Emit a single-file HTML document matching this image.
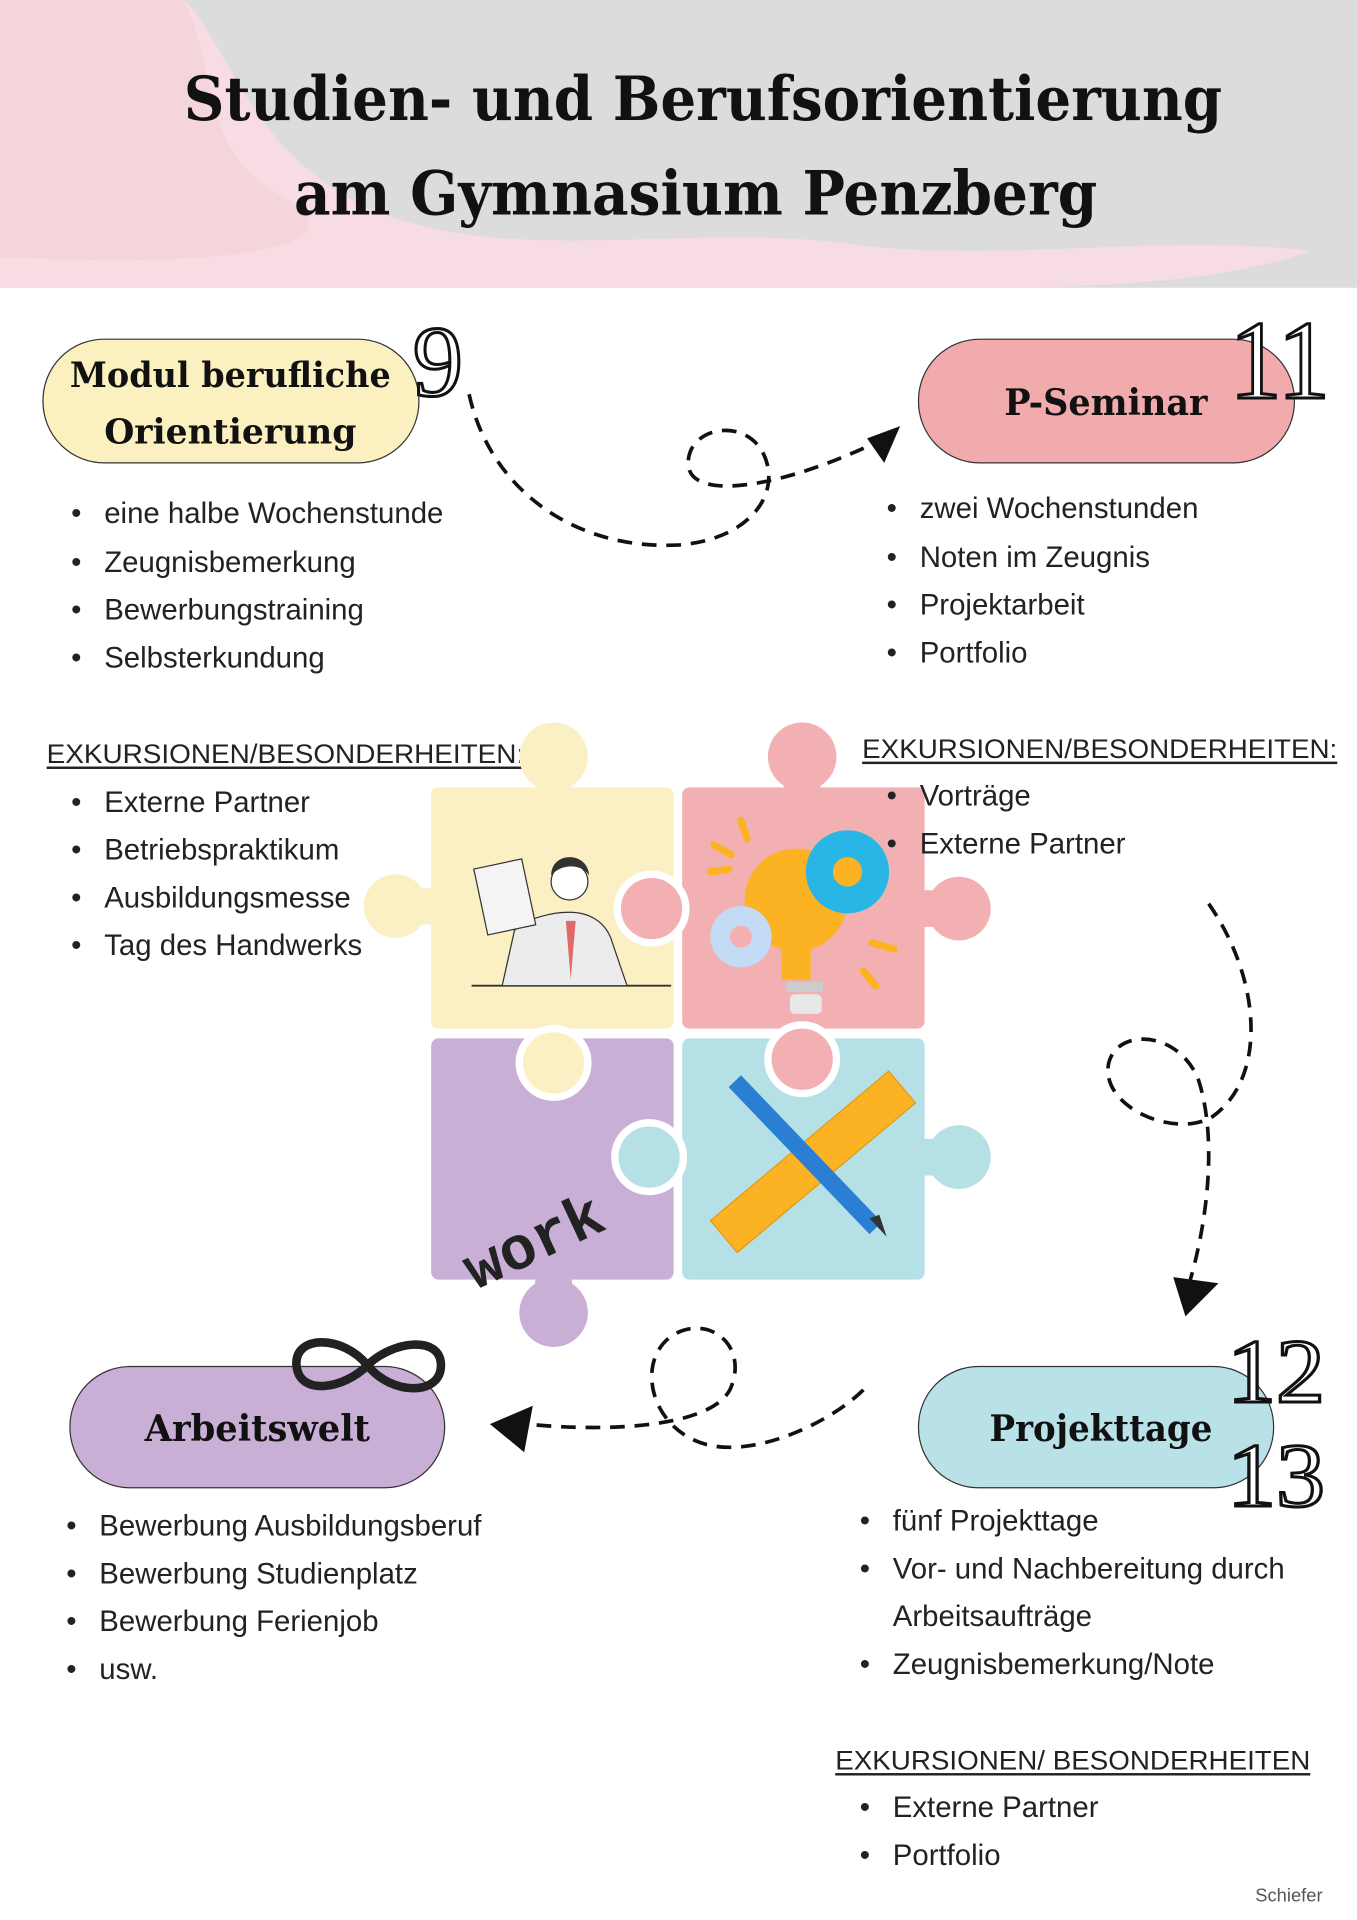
<!DOCTYPE html>
<html><head><meta charset="utf-8"><style>
html,body{margin:0;padding:0;background:#fff;}
svg{display:block;}
.t{font-family:"DejaVu Serif","Liberation Serif",serif;font-weight:bold;fill:#111;}
.l{font-family:"Liberation Sans",sans-serif;font-size:24px;fill:#222;}
.h{font-family:"Liberation Sans",sans-serif;font-size:22px;fill:#222;}
.n{font-family:"Liberation Serif",serif;fill:#fff;stroke:#111;stroke-width:2.5;}
.w{font-family:"Liberation Mono",monospace;font-size:50px;fill:#222;font-weight:bold;}
.s{font-family:"Liberation Sans",sans-serif;font-size:15px;fill:#555;}
</style></head><body>
<svg width="1357" height="1920" viewBox="0 0 1108 1568" xmlns="http://www.w3.org/2000/svg">
<!-- header -->
<rect x="0" y="0" width="1108" height="235" fill="#dcdcdc"/>
<path d="M0,0 L150,0 C190,40 200,120 300,170 C420,220 560,180 700,200 C820,215 950,190 1070,205 C1000,230 900,235 800,235 L0,235 Z" fill="#f7dde3"/>
<path d="M0,0 L150,0 C180,60 160,120 230,160 C300,200 200,220 0,210 Z" fill="#f5d5dc"/>
<text class="t" x="574" y="98" text-anchor="middle" font-size="50" textLength="848" lengthAdjust="spacingAndGlyphs">Studien- und Berufsorientierung</text>
<text class="t" x="568" y="175" text-anchor="middle" font-size="50" textLength="656" lengthAdjust="spacingAndGlyphs">am Gymnasium Penzberg</text>

<!-- pills -->
<rect x="35" y="277" width="307" height="101" rx="50" fill="#fbf0c0" stroke="#333" stroke-width="1"/>
<text class="t" x="188" y="316" text-anchor="middle" font-size="28" textLength="262" lengthAdjust="spacingAndGlyphs">Modul berufliche</text>
<text class="t" x="188" y="362" text-anchor="middle" font-size="28" textLength="206" lengthAdjust="spacingAndGlyphs">Orientierung</text>
<text class="n" x="337" y="323" font-size="82">9</text>

<rect x="750" y="277" width="307" height="101" rx="50" fill="#f2abad" stroke="#333" stroke-width="1"/>
<text class="t" x="903" y="339" text-anchor="middle" font-size="30" textLength="166" lengthAdjust="spacingAndGlyphs">P-Seminar</text>
<text class="n" x="1004" y="325" font-size="92" textLength="82" lengthAdjust="spacingAndGlyphs">11</text>

<rect x="57" y="1116" width="306" height="99" rx="49" fill="#c9afd6" stroke="#333" stroke-width="1"/>
<text class="t" x="210" y="1177" text-anchor="middle" font-size="30" textLength="184" lengthAdjust="spacingAndGlyphs">Arbeitswelt</text>
<path d="M300,1115 C280,1090 240,1090 242,1115 C244,1140 280,1135 300,1115 C320,1095 360,1090 360,1115 C360,1140 320,1140 300,1115 Z" fill="none" stroke="#222" stroke-width="7"/>

<rect x="750" y="1116" width="290" height="99" rx="49" fill="#b8e2e8" stroke="#333" stroke-width="1"/>
<text class="t" x="899" y="1177" text-anchor="middle" font-size="30" textLength="182" lengthAdjust="spacingAndGlyphs">Projekttage</text>
<text class="n" x="1002" y="1145" font-size="74" textLength="80" lengthAdjust="spacingAndGlyphs">12</text>
<text class="n" x="1002" y="1230" font-size="74" textLength="80" lengthAdjust="spacingAndGlyphs">13</text>

<!-- lists -->
<g class="l">
<text x="58" y="427">•</text><text x="85" y="427">eine halbe Wochenstunde</text>
<text x="58" y="467">•</text><text x="85" y="467">Zeugnisbemerkung</text>
<text x="58" y="506">•</text><text x="85" y="506">Bewerbungstraining</text>
<text x="58" y="545">•</text><text x="85" y="545">Selbsterkundung</text>
<text x="58" y="663">•</text><text x="85" y="663">Externe Partner</text>
<text x="58" y="702">•</text><text x="85" y="702">Betriebspraktikum</text>
<text x="58" y="741">•</text><text x="85" y="741">Ausbildungsmesse</text>
<text x="58" y="780">•</text><text x="85" y="780">Tag des Handwerks</text>

<text x="724" y="423">•</text><text x="751" y="423">zwei Wochenstunden</text>
<text x="724" y="463">•</text><text x="751" y="463">Noten im Zeugnis</text>
<text x="724" y="502">•</text><text x="751" y="502">Projektarbeit</text>
<text x="724" y="541">•</text><text x="751" y="541">Portfolio</text>

<text x="54" y="1254">•</text><text x="81" y="1254">Bewerbung Ausbildungsberuf</text>
<text x="54" y="1293">•</text><text x="81" y="1293">Bewerbung Studienplatz</text>
<text x="54" y="1332">•</text><text x="81" y="1332">Bewerbung Ferienjob</text>
<text x="54" y="1371">•</text><text x="81" y="1371">usw.</text>

<text x="702" y="1250">•</text><text x="729" y="1250">fünf Projekttage</text>
<text x="702" y="1289">•</text><text x="729" y="1289">Vor- und Nachbereitung durch</text>
<text x="729" y="1328">Arbeitsaufträge</text>
<text x="702" y="1367">•</text><text x="729" y="1367">Zeugnisbemerkung/Note</text>
<text x="702" y="1484">•</text><text x="729" y="1484">Externe Partner</text>
<text x="702" y="1523">•</text><text x="729" y="1523">Portfolio</text>
</g>
<g class="h">
<text x="38" y="623" textLength="390" lengthAdjust="spacingAndGlyphs">EXKURSIONEN/BESONDERHEITEN:</text>
<rect x="38" y="626" width="390" height="2" fill="#222"/>
<text x="704" y="619" textLength="388" lengthAdjust="spacingAndGlyphs">EXKURSIONEN/BESONDERHEITEN:</text>
<rect x="704" y="622" width="388" height="2" fill="#222"/>
<text x="682" y="1445" textLength="388" lengthAdjust="spacingAndGlyphs">EXKURSIONEN/ BESONDERHEITEN</text>
<rect x="682" y="1448" width="388" height="2" fill="#222"/>
</g>

<!-- puzzle -->
<rect x="352" y="643" width="198" height="197" rx="6" fill="#fbf0c3"/>
<circle cx="452" cy="618" r="28" fill="#fbf0c3"/><rect x="437" y="630" width="30" height="20" fill="#fbf0c3"/>
<circle cx="323" cy="740" r="26" fill="#fbf0c3"/><rect x="335" y="725" width="22" height="30" fill="#fbf0c3"/>
<rect x="557" y="643" width="198" height="197" rx="6" fill="#f3b0b3"/>
<circle cx="655" cy="618" r="28" fill="#f3b0b3"/><rect x="640" y="630" width="30" height="20" fill="#f3b0b3"/>
<circle cx="783" cy="742" r="26" fill="#f3b0b3"/><rect x="750" y="727" width="20" height="30" fill="#f3b0b3"/>
<rect x="352" y="848" width="198" height="197" rx="6" fill="#c9afd6"/>
<circle cx="452" cy="1072" r="28" fill="#c9afd6"/><rect x="437" y="1040" width="30" height="20" fill="#c9afd6"/>
<rect x="557" y="848" width="198" height="197" rx="6" fill="#b4e0e6"/>
<circle cx="783" cy="945" r="26" fill="#b4e0e6"/><rect x="750" y="930" width="20" height="30" fill="#b4e0e6"/>
<circle cx="530" cy="945" r="28" fill="#b4e0e6" stroke="#fff" stroke-width="6"/>
<circle cx="655" cy="865" r="28" fill="#f3b0b3" stroke="#fff" stroke-width="6"/>
<circle cx="532" cy="742" r="28" fill="#f3b0b3" stroke="#fff" stroke-width="6"/>
<circle cx="452" cy="868" r="28" fill="#fbf0c3" stroke="#fff" stroke-width="6"/>

<!-- person -->
<line x1="385" y1="805" x2="548" y2="805" stroke="#333" stroke-width="1.5"/>
<path d="M410,805 L420,760 C430,750 450,745 465,745 C480,745 495,752 500,770 L512,805 Z" fill="#ececec" stroke="#333"/>
<path d="M462,752 L466,800 L470,752 Z" fill="#e06a6a"/>
<circle cx="465" cy="720" r="15" fill="#fff" stroke="#333"/>
<path d="M450,715 C450,695 480,695 481,715 C475,705 458,705 450,715 Z" fill="#333"/>
<rect x="392" y="705" width="40" height="55" fill="#f4f4f4" stroke="#333" transform="rotate(-12 412 732)"/>

<!-- bulb -->
<circle cx="650" cy="735" r="42" fill="#fbb323"/>
<rect x="638" y="770" width="24" height="30" fill="#fbb323"/>
<rect x="642" y="802" width="30" height="8" fill="#ccc"/><rect x="645" y="812" width="26" height="16" rx="4" fill="#e8e8e8"/>
<circle cx="692" cy="712" r="34" fill="#29b6e6"/><circle cx="692" cy="712" r="12" fill="#fbb323"/>
<circle cx="605" cy="765" r="25" fill="#c3dbf5"/><circle cx="605" cy="765" r="9" fill="#f3b0b3"/>
<g stroke="#fbb323" stroke-width="6" stroke-linecap="round"><line x1="583" y1="690" x2="597" y2="698"/><line x1="605" y1="670" x2="610" y2="685"/><line x1="580" y1="712" x2="595" y2="710"/><line x1="712" y1="770" x2="730" y2="775"/><line x1="705" y1="793" x2="715" y2="805"/></g>

<!-- ruler pencil -->
<rect x="570" y="935" width="190" height="34" fill="#fbb323" stroke="#e49a10" transform="rotate(-40 660 952)"/>
<line x1="600" y1="883" x2="715" y2="1003" stroke="#2a7fd4" stroke-width="14"/>
<polygon points="710,995 724,1010 718,992" fill="#333"/>

<text class="w" x="365" y="1030" transform="rotate(-25 430 990)">work</text>

<!-- dashed connectors -->
<g fill="none" stroke="#111" stroke-width="3" stroke-dasharray="12 8">
<path d="M383,322 C400,400 470,450 555,445 C615,440 640,400 622,368 C605,340 560,350 562,380 C565,410 640,398 718,360"/>
<path d="M987,738 C1030,800 1035,880 990,912 C960,930 900,905 905,870 C910,840 960,840 978,880 C995,930 985,1000 972,1045"/>
<path d="M705,1135 C680,1160 620,1190 578,1180 C530,1168 518,1110 550,1090 C580,1073 612,1100 596,1135 C580,1165 500,1170 430,1163"/>
</g>
<polygon points="735,348 708,358 722,378" fill="#111"/>
<polygon points="958,1043 995,1048 968,1075" fill="#111"/>
<polygon points="400,1163 435,1148 428,1186" fill="#111"/>

<g class="l">
<text x="724" y="658">•</text><text x="751" y="658">Vorträge</text>
<text x="724" y="697">•</text><text x="751" y="697">Externe Partner</text>
</g>

<text class="s" x="1025" y="1553">Schiefer</text>
</svg>
</body></html>
